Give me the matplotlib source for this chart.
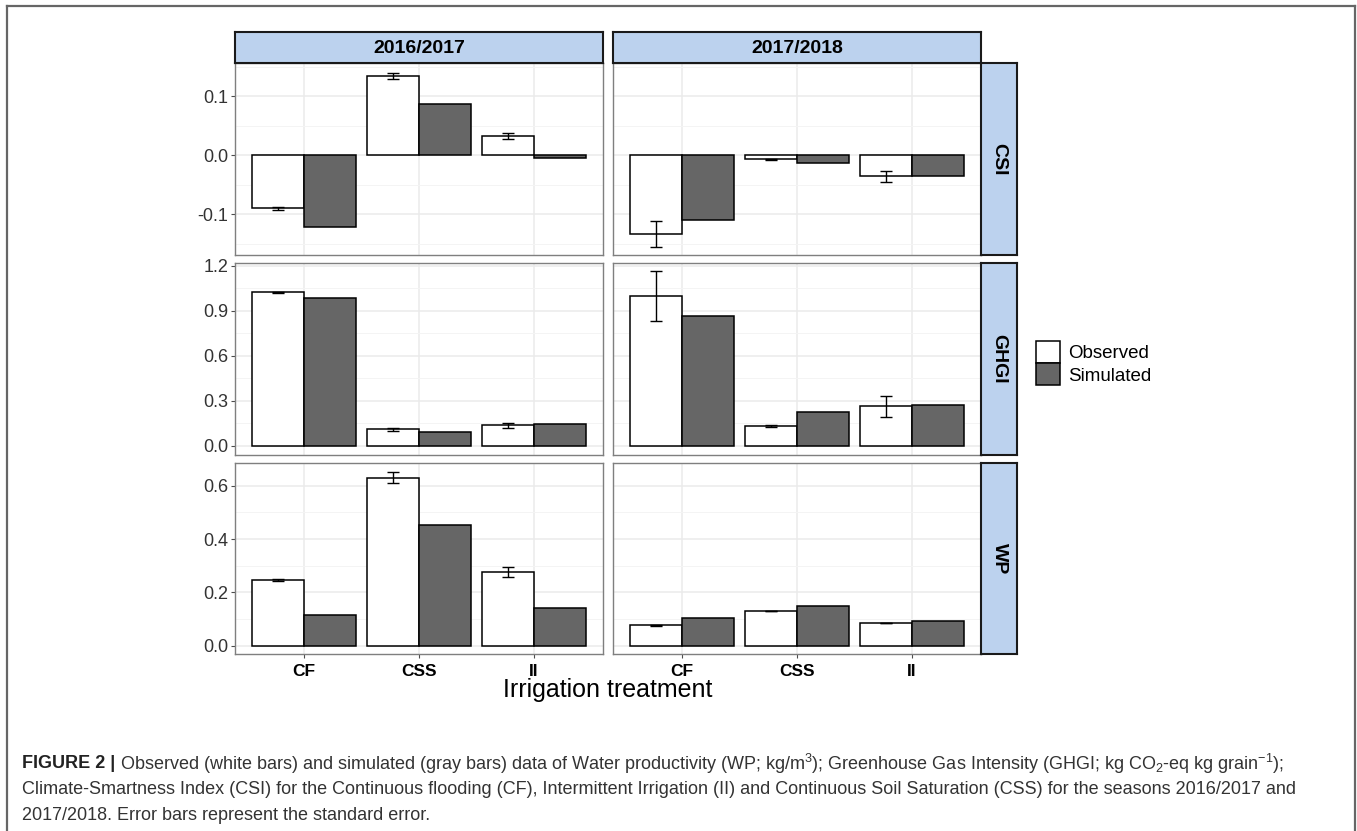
import numpy as np
import matplotlib
matplotlib.use("Agg")
import matplotlib.pyplot as plt
from matplotlib.patches import Patch
from matplotlib.lines import Line2D

plt.rcParams['font.family'] = ['Liberation Sans', 'DejaVu Sans']
plt.rcParams['mathtext.fontset'] = 'custom'
plt.rcParams['mathtext.rm'] = 'Liberation Sans'

# ---------------- data ----------------
treatments = ['CF', 'CSS', 'II']
seasons = ['2016/2017', '2017/2018']
indices = ['CSI', 'GHGI', 'WP']

csi_obs_1617 = [-0.090, 0.134, 0.033]
csi_sim_1617 = [-0.122, 0.087, -0.005]
csi_se_1617 = [0.002, 0.005, 0.005]
csi_obs_1718 = [-0.133, -0.007, -0.036]
csi_sim_1718 = [-0.109, -0.014, -0.035]
csi_se_1718 = [0.022, 0.001, 0.009]

ghgi_obs_1617 = [1.025, 0.109, 0.136]
ghgi_sim_1617 = [0.989, 0.094, 0.147]
ghgi_se_1617 = [0.004, 0.008, 0.018]
ghgi_obs_1718 = [0.998, 0.134, 0.262]
ghgi_sim_1718 = [0.868, 0.223, 0.270]
ghgi_se_1718 = [0.167, 0.006, 0.071]

wp_obs_1617 = [0.246, 0.630, 0.276]
wp_sim_1617 = [0.116, 0.451, 0.143]
wp_se_1617 = [0.003, 0.021, 0.019]
wp_obs_1718 = [0.076, 0.130, 0.086]
wp_sim_1718 = [0.104, 0.149, 0.093]
wp_se_1718 = [0.001, 0.001, 0.001]

data = {
    ('CSI', 0): (csi_obs_1617, csi_sim_1617, csi_se_1617),
    ('CSI', 1): (csi_obs_1718, csi_sim_1718, csi_se_1718),
    ('GHGI', 0): (ghgi_obs_1617, ghgi_sim_1617, ghgi_se_1617),
    ('GHGI', 1): (ghgi_obs_1718, ghgi_sim_1718, ghgi_se_1718),
    ('WP', 0): (wp_obs_1617, wp_sim_1617, wp_se_1617),
    ('WP', 1): (wp_obs_1718, wp_sim_1718, wp_se_1718),
}

# axis scales per row
ylims = {'CSI': (-0.169, 0.156), 'GHGI': (-0.062, 1.22), 'WP': (-0.031, 0.685)}
yticks = {'CSI': [-0.1, 0.0, 0.1], 'GHGI': [0.0, 0.3, 0.6, 0.9, 1.2], 'WP': [0.0, 0.2, 0.4, 0.6]}
ylabels = {'CSI': ['-0.1', '0.0', '0.1'], 'GHGI': ['0.0', '0.3', '0.6', '0.9', '1.2'],
           'WP': ['0.0', '0.2', '0.4', '0.6']}
yminor = {'CSI': [-0.15, -0.05, 0.05, 0.15], 'GHGI': [0.15, 0.45, 0.75, 1.05], 'WP': [0.1, 0.3, 0.5]}

W, H = 1357, 831
fig = plt.figure(figsize=(W / 100, H / 100), dpi=100)


def px_axes(x0, y0, x1, y1, **kw):
    return fig.add_axes([x0 / W, 1 - y1 / H, (x1 - x0) / W, (y1 - y0) / H], **kw)


col_x = [(235, 603), (613, 981)]
row_y = [(63, 255), (263, 455), (463, 654)]
strip_col = '#bcd2ee'
x = np.arange(1, 4)
bw = 0.45

for r, idx in enumerate(indices):
    for c in range(2):
        ax = px_axes(col_x[c][0], row_y[r][0], col_x[c][1], row_y[r][1])
        obs, sim, se = data[(idx, c)]
        ax.set_axisbelow(True)
        ax.bar(x - bw / 2, obs, width=bw, color='white', edgecolor='black', linewidth=1.1, zorder=2)
        ax.bar(x + bw / 2, sim, width=bw, color='#666666', edgecolor='black', linewidth=1.1, zorder=2)
        ax.errorbar(x - bw / 2, obs, yerr=se, fmt='none', ecolor='black', elinewidth=1.0,
                    capsize=4, capthick=1.0, zorder=3)
        ax.set_xlim(0.4, 3.6)
        ax.set_ylim(*ylims[idx])
        ax.set_xticks(x)
        ax.set_yticks(yticks[idx])
        ax.set_yticks(yminor[idx], minor=True)
        ax.grid(True, which='major', color='#ebebeb', linewidth=1.1)
        ax.grid(True, which='minor', axis='y', color='#f4f4f4', linewidth=0.7)
        for s in ax.spines.values():
            s.set_color('#7f7f7f')
            s.set_linewidth(1.0)
        ax.tick_params(which='minor', length=0)
        ax.tick_params(which='major', length=3, width=0.8, color='#4d4d4d')
        if c == 0:
            ax.set_yticklabels(ylabels[idx], fontsize=13, color='#333333')
            ax.tick_params(axis='y', pad=2)
        else:
            ax.tick_params(axis='y', length=0, labelleft=False)
        if r == 2:
            ax.set_xticklabels(treatments, fontsize=12.5, fontweight='bold', color='black')
            ax.tick_params(axis='x', pad=4)
        else:
            ax.tick_params(axis='x', length=0, labelbottom=False)

        # right strip
        if c == 1:
            sax = px_axes(981, row_y[r][0], 1017, row_y[r][1])
            sax.set_facecolor(strip_col)
            sax.set_xticks([])
            sax.set_yticks([])
            for s in sax.spines.values():
                s.set_color('#1a1a1a')
                s.set_linewidth(1.5)
            sax.text(0.5, 0.5, idx, rotation=-90, ha='center', va='center',
                     fontsize=14, fontweight='bold', transform=sax.transAxes)

# top strips
for c in range(2):
    sax = px_axes(col_x[c][0], 32, col_x[c][1], 63)
    sax.set_facecolor(strip_col)
    sax.set_xticks([])
    sax.set_yticks([])
    for s in sax.spines.values():
        s.set_color('#1a1a1a')
        s.set_linewidth(1.5)
    sax.text(0.5, 0.47, seasons[c], ha='center', va='center', fontsize=14,
             fontweight='bold', transform=sax.transAxes)

# axis title
fig.text(608 / W, 1 - 690 / H, 'Irrigation treatment', ha='center', va='center', fontsize=18)

# legend
handles = [Patch(facecolor='white', edgecolor='black', linewidth=1.1),
           Patch(facecolor='#666666', edgecolor='black', linewidth=1.1)]
fig.legend(handles, ['Observed', 'Simulated'], loc='center left',
           bbox_to_anchor=(1036 / W, 1 - 363 / H), frameon=False, fontsize=13.5,
           handlelength=1.3, handleheight=1.4, labelspacing=0.05, handletextpad=0.4,
           borderpad=0, borderaxespad=0)

# outer frame (left, top, right)
frame_kw = dict(color='#666666', linewidth=1.6, transform=fig.transFigure)
fig.add_artist(Line2D([7 / W, 1355 / W], [1 - 6 / H, 1 - 6 / H], **frame_kw))
fig.add_artist(Line2D([7 / W, 7 / W], [1 - 6 / H, 0], **frame_kw))
fig.add_artist(Line2D([1355 / W, 1355 / W], [1 - 6 / H, 0], **frame_kw))

# caption
cap_fs = 13
cap_col = '#333333'
t0 = fig.text(22 / W, 1 - 764 / H, 'FIGURE 2 |', fontsize=cap_fs, fontweight='bold',
              color='#222222', va='center', ha='left')
fig.canvas.draw()
bb = t0.get_window_extent()
fig.text((bb.x1 + 5) / W, 1 - 764 / H,
         r'Observed (white bars) and simulated (gray bars) data of Water productivity (WP; kg/m$^3$); '
         r'Greenhouse Gas Intensity (GHGI; kg CO$_2$-eq kg grain$^{-1}$);',
         fontsize=cap_fs, color=cap_col, va='center', ha='left')
fig.text(22 / W, 1 - 790 / H,
         'Climate-Smartness Index (CSI) for the Continuous flooding (CF), Intermittent Irrigation (II) '
         'and Continuous Soil Saturation (CSS) for the seasons 2016/2017 and',
         fontsize=cap_fs, color=cap_col, va='center', ha='left')
fig.text(22 / W, 1 - 816 / H, '2017/2018. Error bars represent the standard error.',
         fontsize=cap_fs, color=cap_col, va='center', ha='left')

fig.savefig('out.png', dpi=100)
